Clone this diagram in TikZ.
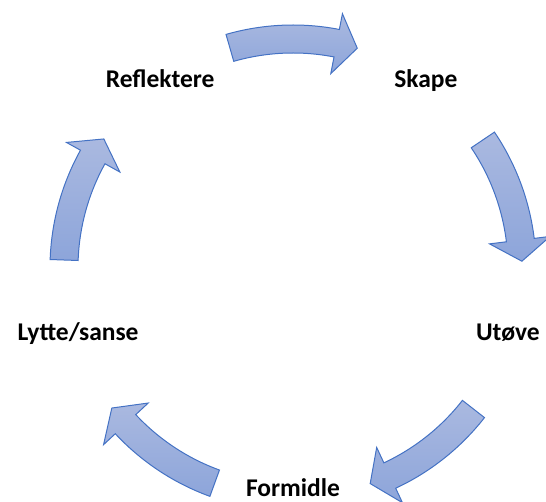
\documentclass[tikz,border=0pt]{standalone}
\usepackage{fontspec}
\setmainfont{Carlito}
\usepackage{xcolor}
\definecolor{arrowline}{HTML}{4472C4}
\definecolor{arrowtop}{HTML}{AAB9E0}
\definecolor{arrowbot}{HTML}{8DA5DA}

\begin{document}
\begin{tikzpicture}[x=1pt,y=1pt,
    stage/.style={font=\fontsize{25.5}{30}\selectfont\bfseries, anchor=base, inner sep=0pt},
    cyclearrow/.style={draw=arrowline, line width=1pt, top color=arrowtop, bottom color=arrowbot}]
    \useasboundingbox (0,0) rectangle (546,501);

    % Centres of the cycle
    \coordinate (c) at (293,238.5);
    \coordinate (a) at (293,233);

    % Stages
    \foreach \ang/\name/\txt in {126/reflektere/Reflektere, 54/skape/Skape, -18/utove/Utøve, -90/formidle/Formidle, -162/lytte/{Lytte/sanse}} {
        \node[stage, yshift=-8pt] (\name) at ([shift={(\ang:226pt)}]c) {\txt};
    }

    % Arrows between the stages
    \foreach \ang in {90,18,-54,-126,162} {
        \draw[cyclearrow, shift={(a)}] (\ang+16:243pt) arc[start angle=\ang+16, end angle=\ang-11, radius=243pt]
            -- (\ang-11:259pt) -- (\ang-16.3:229pt) -- (\ang-11:198pt) -- (\ang-11:215pt)
            arc[start angle=\ang-11, end angle=\ang+16, radius=215pt] -- cycle;
    }
\end{tikzpicture}
\end{document}
